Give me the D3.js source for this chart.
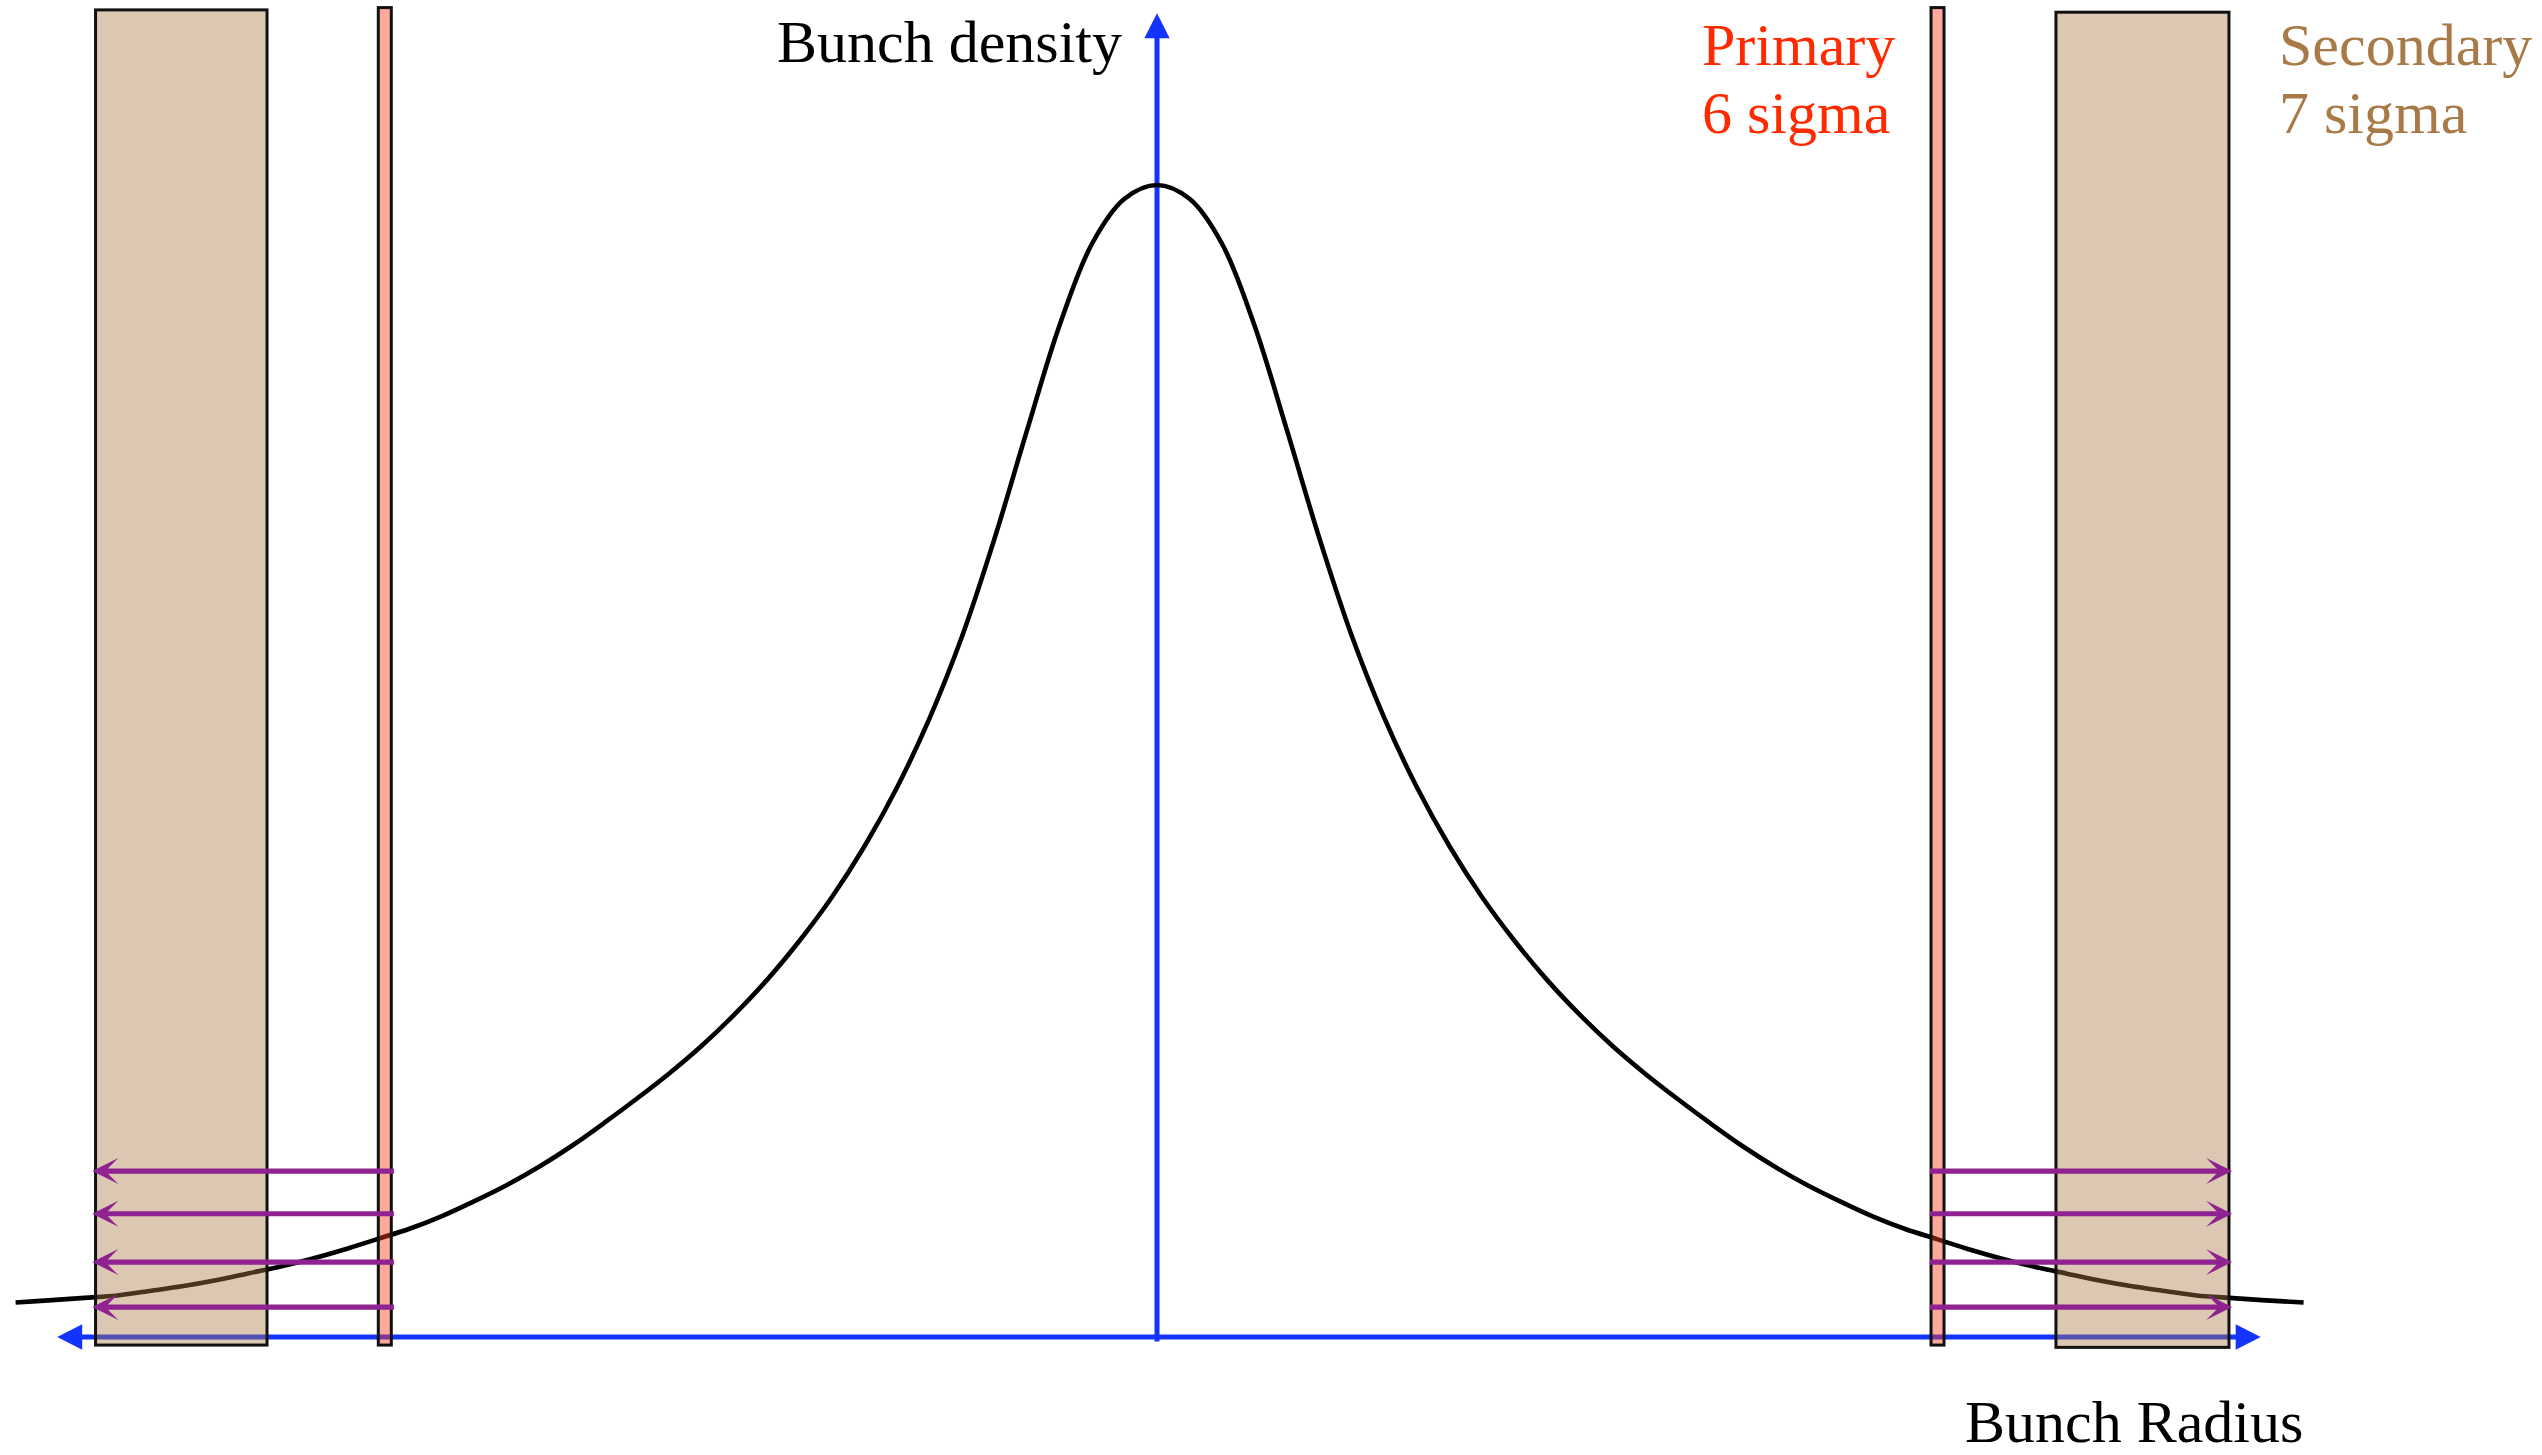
<!DOCTYPE html>
<html>
<head>
<meta charset="utf-8">
<script src="https://cdn.jsdelivr.net/npm/d3@7"></script>
<style>
  html, body { margin: 0; padding: 0; background: #ffffff; }
  svg { display: block; }
  text { font-family: "Liberation Serif", "Times New Roman", "DejaVu Serif", serif; }
</style>
</head>
<body>
<svg id="chart" width="2542" height="1455"></svg>
<script>
// ---------------- DATA ----------------
// Bunch radius in units of sigma, bunch density normalised to the peak
const radiusSigma = [
  -8.78, -8.50, -8.25, -8.00, -7.75, -7.50, -7.25, -7.00, -6.75, -6.50,
  -6.25, -6.00, -5.75, -5.50, -5.25, -5.00, -4.75, -4.50, -4.25, -4.00,
  -3.75, -3.50, -3.25, -3.00, -2.75, -2.50, -2.25, -2.00, -1.75, -1.50,
  -1.25, -1.00, -0.75, -0.50, -0.25,
   0.00,
   0.25,  0.50,  0.75,  1.00,  1.25,  1.50,  1.75,  2.00,  2.25,  2.50,
   2.75,  3.00,  3.25,  3.50,  3.75,  4.00,  4.25,  4.50,  4.75,  5.00,
   5.25,  5.50,  5.75,  6.00,  6.25,  6.50,  6.75,  7.00,  7.25,  7.50,
   7.75,  8.00,  8.25,  8.50,  8.82
];
const bunchDensity = [
  0.030, 0.032, 0.034, 0.036, 0.040, 0.044, 0.049, 0.055, 0.061, 0.068,
  0.076, 0.085, 0.094, 0.105, 0.118, 0.132, 0.148, 0.166, 0.186, 0.207,
  0.229, 0.253, 0.280, 0.310, 0.344, 0.382, 0.426, 0.477, 0.537, 0.608,
  0.693, 0.787, 0.878, 0.949, 0.988,
  1.000,
  0.988, 0.949, 0.878, 0.787, 0.693, 0.608, 0.537, 0.477, 0.426, 0.382,
  0.344, 0.310, 0.280, 0.253, 0.229, 0.207, 0.186, 0.166, 0.148, 0.132,
  0.118, 0.105, 0.094, 0.085, 0.076, 0.068, 0.061, 0.055, 0.049, 0.044,
  0.040, 0.036, 0.034, 0.032, 0.030
];

// Collimator jaws: [inner/outer edge in sigma]
const primaryJaws   = [[-5.99, -5.89], [5.954, 6.054]];
const secondaryJaws = [[-8.165, -6.846], [6.915, 8.246]];
const jawTop = [1.152, 1.150];       // density units (left, right)
const jawBottom = [-0.007, -0.009];

// Scattered particles: arrow levels (density units), start / end (sigma)
const arrowLevels = [0.144, 0.107, 0.065, 0.026];
const arrowStart = [-5.87, 5.946];
const arrowEnd   = [-8.19, 8.27];

// Axes extent
const radiusAxisExtent  = [-8.46, 8.49];   // sigma (arrow tips)
const densityAxisExtent = [-0.004, 1.149]; // density (arrow tip at top)

// Labels
const labelDensity = "Bunch density";
const labelRadius  = "Bunch Radius";
const primaryLabel   = ["Primary", "6 sigma"];
const secondaryLabel = ["Secondary", "7 sigma"];

// ---------------- SCALES ----------------
const svg = d3.select("#chart");
const W = 2542, H = 1455;
svg.append("rect").attr("width", W).attr("height", H).attr("fill", "#ffffff");

const x = d3.scaleLinear().domain([0, 1]).range([1157, 1157 + 130]);
const y = d3.scaleLinear().domain([0, 1]).range([1337, 185]);

const BLUE = "#1433ff";
const PURPLE = "#8f2290";

// ---------------- AXES (drawn under the jaws) ----------------
const gAxes = svg.append("g");
const xa0 = x(radiusAxisExtent[0]), xa1 = x(radiusAxisExtent[1]);
const y0 = y(0);
const AH = 25, AW = 12.7;
gAxes.append("line")
  .attr("x1", xa0 + AH - 2).attr("x2", xa1 - AH + 2)
  .attr("y1", y0).attr("y2", y0)
  .attr("stroke", BLUE).attr("stroke-width", 5);
gAxes.append("path")
  .attr("d", `M${xa0},${y0} L${xa0 + AH},${y0 - AW} L${xa0 + AH},${y0 + AW} Z`)
  .attr("fill", BLUE);
gAxes.append("path")
  .attr("d", `M${xa1},${y0} L${xa1 - AH},${y0 - AW} L${xa1 - AH},${y0 + AW} Z`)
  .attr("fill", BLUE);

const xv = x(0);
const yv0 = y(densityAxisExtent[0]), yv1 = y(densityAxisExtent[1]);
gAxes.append("line")
  .attr("x1", xv).attr("x2", xv)
  .attr("y1", yv0).attr("y2", yv1 + AH - 2)
  .attr("stroke", BLUE).attr("stroke-width", 5);
gAxes.append("path")
  .attr("d", `M${xv},${yv1} L${xv - AW},${yv1 + AH} L${xv + AW},${yv1 + AH} Z`)
  .attr("fill", BLUE);

// ---------------- DENSITY CURVE ----------------
const pts = radiusSigma.map((r, i) => [r, bunchDensity[i]]);
const line = d3.line()
  .x(d => x(d[0]))
  .y(d => y(d[1]))
  .curve(d3.curveCatmullRom.alpha(0.5));
svg.append("path")
  .datum(pts)
  .attr("d", line)
  .attr("fill", "none")
  .attr("stroke", "#000000")
  .attr("stroke-width", 4.6)
  .attr("stroke-linejoin", "round");

// ---------------- COLLIMATOR JAWS ----------------
const gJaws = svg.append("g");
gJaws.selectAll("rect.secondary")
  .data(secondaryJaws)
  .join("rect")
  .attr("class", "secondary")
  .attr("x", d => x(d[0]))
  .attr("width", d => x(d[1]) - x(d[0]))
  .attr("y", (d, i) => y(jawTop[i]))
  .attr("height", (d, i) => y(jawBottom[i]) - y(jawTop[i]))
  .attr("fill", "rgba(171,121,74,0.42)")
  .attr("stroke", "#111111")
  .attr("stroke-width", 3);

gJaws.selectAll("rect.primary")
  .data(primaryJaws)
  .join("rect")
  .attr("class", "primary")
  .attr("x", d => x(d[0]))
  .attr("width", d => x(d[1]) - x(d[0]))
  .attr("y", y(jawTop[0] + 0.002))
  .attr("height", y(jawBottom[0]) - y(jawTop[0] + 0.002))
  .attr("fill", "rgba(255,60,30,0.44)")
  .attr("stroke", "#111111")
  .attr("stroke-width", 3);

// ---------------- SCATTER ARROWS ----------------
const gArr = svg.append("g");
const arrowData = [];
arrowStart.forEach((s, side) => {
  arrowLevels.forEach(lv => arrowData.push({ s: s, e: arrowEnd[side], lv: lv }));
});
const HL = 26, HW = 13, NOTCH = 13;
gArr.selectAll("line")
  .data(arrowData)
  .join("line")
  .attr("x1", d => x(d.s))
  .attr("x2", d => x(d.e) - Math.sign(d.e - d.s) * NOTCH)
  .attr("y1", d => y(d.lv))
  .attr("y2", d => y(d.lv))
  .attr("stroke", PURPLE)
  .attr("stroke-width", 5.2);
gArr.selectAll("path")
  .data(arrowData)
  .join("path")
  .attr("d", d => {
    const dir = Math.sign(d.e - d.s);
    const tx = x(d.e), ty = y(d.lv);
    return `M${tx},${ty} L${tx - dir * HL},${ty - HW} L${tx - dir * NOTCH},${ty} L${tx - dir * HL},${ty + HW} Z`;
  })
  .attr("fill", PURPLE);

// ---------------- LABELS ----------------
svg.append("text")
  .attr("x", 1122).attr("y", 62)
  .attr("text-anchor", "end")
  .attr("font-size", 60)
  .attr("fill", "#000000")
  .text(labelDensity);

svg.append("text")
  .attr("x", 1965).attr("y", 1442)
  .attr("font-size", 60)
  .attr("fill", "#000000")
  .text(labelRadius);

svg.selectAll("text.prim")
  .data(primaryLabel)
  .join("text")
  .attr("class", "prim")
  .attr("x", 1702)
  .attr("y", (d, i) => 65 + i * 68)
  .attr("font-size", 60)
  .attr("fill", "#ff2a00")
  .text(d => d);

svg.selectAll("text.sec")
  .data(secondaryLabel)
  .join("text")
  .attr("class", "sec")
  .attr("x", 2279)
  .attr("y", (d, i) => 65 + i * 68)
  .attr("font-size", 60)
  .attr("fill", "#a87a47")
  .text(d => d);
</script>
</body>
</html>
